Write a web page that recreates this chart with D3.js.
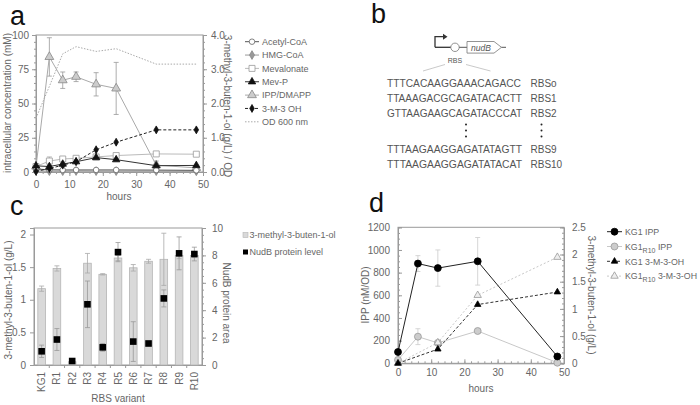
<!DOCTYPE html>
<html><head><meta charset="utf-8">
<script src="https://cdn.jsdelivr.net/npm/d3@7"></script>
<style>body{margin:0;background:#fff} svg{display:block}</style>
</head><body><svg id="fig" width="700" height="405"></svg>
<script>
// ---------- Panel a data ----------
const hoursA = [0, 4, 8, 12, 18, 24, 36, 48];
const acetylCoA = [2.2, 1.6, 1.5, 1.5, 1.5, 1.5, 1.4, 1.2];
const hmgCoA = [0.8, 0.6, 0.6, 0.7, 0.6, 0.6, 0.6, 0.5];
const mevalonate = [4, 8, 9.5, 10, 11, 12, 13.2, 13];
const mevalonateErr = [0, 3, 0, 1, 0, 0, 0, 0];
const mevP = [4.5, 4, 5.8, 7.5, 10.5, 9, 4.6, 4.8];
const ippDmapp = [4, 84, 67, 69.5, 64, 61, 5, 3];
const ippDmappErr = [0, 14, 6, 3.5, 8.5, 19, 3, 0];
const m3oh = [0.02, 0.1, 0.2, 0.3, 0.65, 0.87, 1.23, 1.23];
const od600 = [1.57, 2.5, 3.45, 3.66, 3.52, 3.6, 3.15, 3.15];
const ticksAx = [0, 10, 20, 30, 40, 50];
const ticksAl = [0, 25, 50, 75, 100];
const ticksAr = [0, 1, 2, 3, 4];
const legendA = ["Acetyl-CoA", "HMG-CoA", "Mevalonate", "Mev-P", "IPP/DMAPP", "3-M-3 OH", "OD 600 nm"];

// ---------- Panel b data ----------
const rbsSeqs = ["TTTCACAAGGAAACAGACC", "TTAAAGACGCAGATACACTT", "GTTAAGAAGCAGATACCCAT", "TTTAAGAAGGAGATATAGTT", "TTTAAGAAGGAGATATACAT"];
const rbsNames = ["RBSo", "RBS1", "RBS2", "RBS9", "RBS10"];

// ---------- Panel c data ----------
const rbsVariants = ["KG1", "R1", "R2", "R3", "R4", "R5", "R6", "R7", "R8", "R9", "R10"];
const titer = [1.17, 1.48, 0.05, 1.56, 1.39, 1.64, 1.49, 1.59, 1.62, 1.68, 1.68];
const titerErr = [0.04, 0.04, 0, 0.15, 0.01, 0.04, 0.05, 0.03, 0.4, 0.05, 0.03];
const nudB = [1.0, 1.86, 0.29, 4.43, 1.29, 8.24, 1.71, 1.57, 4.86, 8.15, 8.1];
const nudBErr = [0.45, 0.8, 0, 1.7, 0.28, 0.7, 1.45, 0.08, 0.62, 1.2, 0.5];
const ticksCl = [0, 0.5, 1, 1.5, 2];
const ticksCr = [0, 2, 4, 6, 8, 10];
const legendC = ["3-methyl-3-buten-1-ol", "NudB protein level"];

// ---------- Panel d data ----------
const hoursD = [0, 6, 12, 24, 48];
const kg1Ipp = [100, 880, 840, 900, 60];
const kg1IppErr = [0, 70, 160, 210, 0];
const r10Ipp = [30, 235, 180, 285, 5];
const r10IppErr = [0, 70, 0, 0, 0];
const hoursD2 = [0, 12, 24, 48];
const kg1Ol = [0, 0.26, 1.08, 1.31];
const r10Ol = [0, 0.38, 1.25, 1.95];
const ticksDx = [0, 10, 20, 30, 40, 50];
const ticksDl = [0, 200, 400, 600, 800, 1000, 1200];
const ticksDr = [0, 0.5, 1, 1.5, 2, 2.5];

// ---------- helpers ----------
const FONT = "'Liberation Sans', Arial, Helvetica, sans-serif";
const AX = "#9a9a9a", TXT = "#666";
const svg = d3.select("#fig");

function styleAxis(g, fs) {
  g.attr("font-family", FONT).attr("font-size", fs || 10);
  g.select(".domain").attr("stroke", AX);
  g.selectAll(".tick line").attr("stroke", AX);
  g.selectAll(".tick text").attr("fill", TXT);
}
function minor(g) { g.select(".domain").remove(); g.selectAll(".tick line").attr("stroke", AX); }
function text(x, y, s, opts) {
  const t = svg.append("text").attr("x", x).attr("y", y).text(s)
    .attr("font-family", FONT).attr("font-size", (opts && opts.fs) || 10).attr("fill", (opts && opts.fill) || TXT);
  if (opts && opts.anchor) t.attr("text-anchor", opts.anchor);
  if (opts && opts.rot) t.attr("transform", `rotate(${opts.rot},${x},${y})`);
  if (opts && opts.style) t.attr("font-style", opts.style);
  return t;
}
function errBars(g, xs, ys, es, xS, yS, color, cap) {
  xs.forEach((x, i) => {
    if (!es[i]) return;
    const cx = xS(x), y1 = yS(ys[i] - es[i]), y2 = yS(ys[i] + es[i]);
    g.append("line").attr("x1", cx).attr("x2", cx).attr("y1", y1).attr("y2", y2).attr("stroke", color).attr("stroke-width", 0.8);
    [y1, y2].forEach(yy => g.append("line").attr("x1", cx - cap).attr("x2", cx + cap).attr("y1", yy).attr("y2", yy).attr("stroke", color).attr("stroke-width", 0.8));
  });
}
function drawSeries(g, xs, ys, xS, yS, st) {
  const line = d3.line().x((d, i) => xS(xs[i])).y(d => yS(d));
  g.append("path").datum(ys).attr("d", line).attr("fill", "none")
    .attr("stroke", st.stroke).attr("stroke-width", st.w || 1)
    .attr("stroke-dasharray", st.dash || null);
  if (st.sym) {
    g.selectAll(null).data(ys).enter().append("path")
      .attr("d", d3.symbol().type(st.sym).size(st.size))
      .attr("transform", (d, i) => `translate(${xS(xs[i])},${yS(d)})`)
      .attr("fill", st.fill).attr("stroke", st.mstroke).attr("stroke-width", 0.8);
  }
}
function legendSample(g, x1, x2, y, st) {
  g.append("line").attr("x1", x1).attr("x2", x2).attr("y1", y).attr("y2", y)
    .attr("stroke", st.stroke).attr("stroke-width", st.w || 1).attr("stroke-dasharray", st.dash || null);
  if (st.sym) g.append("path").attr("d", d3.symbol().type(st.sym).size(st.size))
    .attr("transform", `translate(${(x1 + x2) / 2},${y})`)
    .attr("fill", st.fill).attr("stroke", st.mstroke).attr("stroke-width", 0.8);
}

// ================= Panel a =================
(function () {
  const xS = d3.scaleLinear([0, 50], [36, 203]);
  const yL = d3.scaleLinear([0, 100], [172, 35]);
  const yR = d3.scaleLinear([0, 4], [172, 35]);
  const g = svg.append("g");
  g.append("rect").attr("x", 36).attr("y", 35).attr("width", 167).attr("height", 137).attr("fill", "none").attr("stroke", AX);
  g.append("g").attr("transform", "translate(0,172)").call(d3.axisBottom(xS).tickValues(d3.range(0, 51, 2)).tickSize(2).tickFormat("")).call(minor);
  g.append("g").attr("transform", "translate(36,0)").call(d3.axisLeft(yL).tickValues(d3.range(0, 101, 5)).tickSize(2).tickFormat("")).call(minor);
  g.append("g").attr("transform", "translate(203,0)").call(d3.axisRight(yR).tickValues(d3.range(0, 4.01, 0.2)).tickSize(2).tickFormat("")).call(minor);
  g.append("g").attr("transform", "translate(0,172)").call(d3.axisBottom(xS).tickValues(ticksAx).tickSize(4).tickPadding(5)).call(styleAxis);
  g.append("g").attr("transform", "translate(36,0)").call(d3.axisLeft(yL).tickValues(ticksAl).tickSize(4).tickPadding(3)).call(styleAxis);
  g.append("g").attr("transform", "translate(203,0)").call(d3.axisRight(yR).tickValues(ticksAr).tickSize(4).tickPadding(4)).call(styleAxis);

  const st = [
    { stroke: "#555", sym: d3.symbolCircle, size: 24, fill: "#fff", mstroke: "#666" },
    { stroke: "#999", sym: d3.symbolDiamond, size: 22, fill: "#999", mstroke: "#888" },
    { stroke: "#bbb", sym: d3.symbolSquare, size: 36, fill: "#fff", mstroke: "#999" },
    { stroke: "#333", sym: d3.symbolTriangle, size: 24, fill: "#111", mstroke: "#111" },
    { stroke: "#aaa", sym: d3.symbolTriangle, size: 34, fill: "#ccc", mstroke: "#888" },
    { stroke: "#222", dash: "3,2", sym: d3.symbolDiamond, size: 18, fill: "#111", mstroke: "#111" },
    { stroke: "#aaa", dash: "1.5,1.5" }
  ];
  drawSeries(g, hoursA, od600, xS, yR, st[6]);
  errBars(g, hoursA, ippDmapp, ippDmappErr, xS, yL, "#999", 2.5);
  drawSeries(g, hoursA, ippDmapp, xS, yL, st[4]);
  errBars(g, hoursA, mevalonate, mevalonateErr, xS, yL, "#aaa", 2.5);
  drawSeries(g, hoursA, mevalonate, xS, yL, st[2]);
  drawSeries(g, hoursA, hmgCoA, xS, yL, st[1]);
  drawSeries(g, hoursA, acetylCoA, xS, yL, st[0]);
  drawSeries(g, hoursA, mevP, xS, yL, st[3]);
  drawSeries(g, hoursA, m3oh, xS, yR, st[5]);

  legendA.forEach((n, i) => {
    const y = 41.7 + i * 13.35;
    legendSample(g, 245, 259, y, st[i]);
    text(262, y + 3.3, n, { fs: 9 });
  });
  text(10, 25, "a", { fs: 27, fill: "#111" });
  text(11, 103, "intracellular concentration (mM)", { anchor: "middle", rot: -90 });
  text(224, 106, "3-methyl-3-buten-1-ol (g/L) / OD", { anchor: "middle", rot: 90 });
  text(119, 200, "hours", { anchor: "middle" });
})();

// ================= Panel b =================
(function () {
  const g = svg.append("g");
  text(371, 23, "b", { fs: 27, fill: "#111" });
  const dk = "#333";
  g.append("path").attr("d", "M435,47.3 V36.7 H444").attr("fill", "none").attr("stroke", dk).attr("stroke-width", 1.3);
  g.append("path").attr("d", "M443,33.7 L447.5,36.7 L443,39.7 Z").attr("fill", dk);
  g.append("line").attr("x1", 435).attr("x2", 451).attr("y1", 47.3).attr("y2", 47.3).attr("stroke", dk).attr("stroke-width", 1.3);
  g.append("circle").attr("cx", 455).attr("cy", 47.3).attr("r", 4.2).attr("fill", "#fff").attr("stroke", "#777").attr("stroke-width", 0.8);
  g.append("line").attr("x1", 459.2).attr("x2", 467).attr("y1", 47.3).attr("y2", 47.3).attr("stroke", "#555");
  g.append("path").attr("d", "M467,41.5 H494 L501.5,47.3 L494,53.1 H467 Z").attr("fill", "#fff").attr("stroke", "#777").attr("stroke-width", 0.8);
  g.append("line").attr("x1", 501.5).attr("x2", 506).attr("y1", 47.3).attr("y2", 47.3).attr("stroke", "#555");
  text(481, 50.5, "nudB", { fs: 8.5, anchor: "middle", style: "italic", fill: "#555" });
  text(455, 63, "RBS", { fs: 7, anchor: "middle", fill: "#555" });
  g.append("line").attr("x1", 445).attr("y1", 64.5).attr("x2", 423).attr("y2", 71).attr("stroke", "#bbb").attr("stroke-width", 0.8);
  g.append("line").attr("x1", 466).attr("y1", 64.5).attr("x2", 490.5).attr("y2", 71).attr("stroke", "#bbb").attr("stroke-width", 0.8);
  const ys = [87, 102, 117, 152.5, 167.5];
  rbsSeqs.forEach((s, i) => {
    text(387, ys[i], s, { fs: 10, fill: "#555" }).attr("textLength", s.length === 19 ? 134 : 135).attr("lengthAdjust", "spacingAndGlyphs");
    text(530.5, ys[i], rbsNames[i], { fs: 10, fill: "#555" });
  });
  [466, 541.5].forEach(x => [124.5, 130.5, 136.5].forEach(y =>
    g.append("circle").attr("cx", x).attr("cy", y).attr("r", 1).attr("fill", "#222")));
})();

// ================= Panel c =================
(function () {
  const xS = d3.scaleBand(rbsVariants, [34, 202]).paddingInner(0.5).paddingOuter(0.25);
  const yL = d3.scaleLinear([0, 2.1], [365, 228]);
  const yR = d3.scaleLinear([0, 10], [365, 228]);
  const g = svg.append("g");
  g.append("rect").attr("x", 34).attr("y", 228).attr("width", 168).attr("height", 137).attr("fill", "none").attr("stroke", AX);
  g.append("g").attr("transform", "translate(202,0)").call(d3.axisRight(yR).tickValues(d3.range(0, 10.01, 0.5)).tickSize(2).tickFormat("")).call(minor);
  g.append("g").attr("transform", "translate(34,0)").call(d3.axisLeft(yL).tickValues(ticksCl).tickSize(4).tickPadding(4).tickFormat(d3.format("~g"))).call(styleAxis);
  g.append("g").attr("transform", "translate(202,0)").call(d3.axisRight(yR).tickValues(ticksCr).tickSize(4).tickPadding(6)).call(styleAxis);
  const xa = g.append("g").attr("transform", "translate(0,365)").call(d3.axisBottom(xS).tickSize(0).tickPadding(4)).call(styleAxis);
  xa.selectAll(".tick text").attr("transform", "rotate(-90)").attr("text-anchor", "end").attr("x", -7).attr("y", 0).attr("dy", "0.35em");
  const step = xS.step();
  g.selectAll(null).data(rbsVariants.slice(0, -1)).enter().append("line")
    .attr("x1", d => xS(d) + xS.bandwidth() + (step - xS.bandwidth()) / 2)
    .attr("x2", d => xS(d) + xS.bandwidth() + (step - xS.bandwidth()) / 2)
    .attr("y1", 365).attr("y2", 368).attr("stroke", AX);

  g.selectAll(null).data(titer).enter().append("rect")
    .attr("x", (d, i) => xS(rbsVariants[i])).attr("width", xS.bandwidth())
    .attr("y", d => yL(d)).attr("height", d => 365 - yL(d))
    .attr("fill", "#d9d9d9").attr("stroke", "#b5b5b5").attr("stroke-width", 0.8);
  const xc = c => xS(c) + xS.bandwidth() / 2;
  const xId = d3.scaleOrdinal(rbsVariants, rbsVariants.map(c => xc(c)));
  errBars(g, rbsVariants, titer, titerErr, xId, yL, "#aaa", 2.5);
  errBars(g, rbsVariants, nudB, nudBErr, xId, yR, "#999", 2.5);
  g.selectAll(null).data(nudB).enter().append("rect")
    .attr("x", (d, i) => xc(rbsVariants[i]) - 3.3).attr("y", d => yR(d) - 3.3)
    .attr("width", 6.6).attr("height", 6.6).attr("fill", "#000");

  g.append("rect").attr("x", 243).attr("y", 232.5).attr("width", 5).attr("height", 5).attr("fill", "#d9d9d9").attr("stroke", "#b5b5b5").attr("stroke-width", 0.6);
  g.append("rect").attr("x", 243).attr("y", 249.5).attr("width", 5).attr("height", 5).attr("fill", "#000");
  text(249.5, 238.3, legendC[0], { fs: 9 });
  text(249.5, 255.3, legendC[1], { fs: 9 });

  text(10, 215, "c", { fs: 27, fill: "#111" });
  text(12, 300, "3-methyl-3-buten-1-ol (g/L)", { anchor: "middle", rot: -90 });
  text(223, 303, "NudB protein area", { anchor: "middle", rot: 90 });
  text(118, 402, "RBS variant", { anchor: "middle" });
})();

// ================= Panel d =================
(function () {
  const xS = d3.scaleLinear([0, 50], [398, 564]);
  const yL = d3.scaleLinear([0, 1200], [363.3, 227.3]);
  const yR = d3.scaleLinear([0, 2.5], [363.3, 227.3]);
  const g = svg.append("g");
  g.append("rect").attr("x", 398).attr("y", 227.3).attr("width", 166).attr("height", 136).attr("fill", "none").attr("stroke", AX);
  g.append("g").attr("transform", "translate(0,363.3)").call(d3.axisBottom(xS).tickValues(d3.range(0, 51, 2)).tickSize(-2).tickFormat("")).call(minor);
  g.append("g").attr("transform", "translate(398,0)").call(d3.axisLeft(yL).tickValues(d3.range(0, 1201, 50)).tickSize(-2).tickFormat("")).call(minor);
  g.append("g").attr("transform", "translate(564,0)").call(d3.axisRight(yR).tickValues(d3.range(0, 2.51, 0.1)).tickSize(-2).tickFormat("")).call(minor);
  g.append("g").attr("transform", "translate(0,363.3)").call(d3.axisBottom(xS).tickValues(ticksDx).tickSize(-4).tickPadding(6)).call(styleAxis);
  g.append("g").attr("transform", "translate(398,0)").call(d3.axisLeft(yL).tickValues(ticksDl).tickSize(-4).tickPadding(8).tickFormat(d3.format("d"))).call(styleAxis);
  g.append("g").attr("transform", "translate(564,0)").call(d3.axisRight(yR).tickValues(ticksDr).tickSize(-4).tickPadding(8).tickFormat(d3.format("~g"))).call(styleAxis);

  const st = [
    { stroke: "#222", sym: d3.symbolCircle, size: 38, fill: "#000", mstroke: "#000" },
    { stroke: "#c8c8c8", sym: d3.symbolCircle, size: 38, fill: "#ccc", mstroke: "#999" },
    { stroke: "#333", dash: "3,2", sym: d3.symbolTriangle, size: 18, fill: "#000", mstroke: "#000" },
    { stroke: "#c8c8c8", dash: "2,2", sym: d3.symbolTriangle, size: 24, fill: "#eee", mstroke: "#999" }
  ];
  errBars(g, hoursD, r10Ipp, r10IppErr, xS, yL, "#ccc", 2.5);
  drawSeries(g, hoursD, r10Ipp, xS, yL, st[1]);
  drawSeries(g, hoursD2, r10Ol, xS, yR, st[3]);
  errBars(g, hoursD, kg1Ipp, kg1IppErr, xS, yL, "#ccc", 2.5);
  drawSeries(g, hoursD2, kg1Ol, xS, yR, st[2]);
  drawSeries(g, hoursD, kg1Ipp, xS, yL, st[0]);

  const names = [["KG1", null, " IPP"], ["KG1", "R10", " IPP"], ["KG1", null, " 3-M-3-OH"], ["KG1", "R10", " 3-M-3-OH"]];
  names.forEach((n, i) => {
    const y = 231.7 + i * 14.8;
    legendSample(g, 607, 622, y, st[i]);
    const t = text(625, y + 3.3, null, { fs: 8.8 });
    t.append("tspan").text(n[0]);
    if (n[1]) t.append("tspan").attr("font-size", 7).attr("dy", 3).text(n[1]);
    t.append("tspan").attr("dy", n[1] ? -3 : 0).text(n[2]);
  });
  text(369, 212, "d", { fs: 27, fill: "#111" });
  text(368.5, 295, "IPP (nM/OD)", { anchor: "middle", rot: -90 });
  text(588, 295, "3-methyl-3-buten-1-ol (g/L)", { anchor: "middle", rot: 90 });
  text(481, 392, "hours", { anchor: "middle" });
})();
</script></body></html>
